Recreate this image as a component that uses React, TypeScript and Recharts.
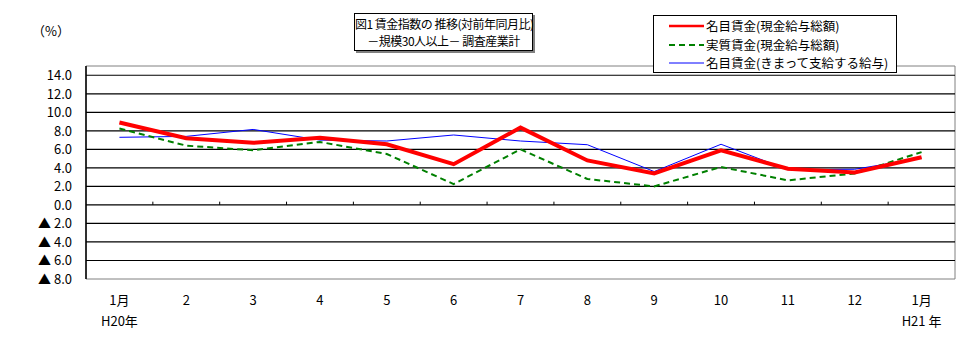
import { LineChart, Line, XAxis, YAxis, ReferenceLine, ReferenceArea } from "recharts";

const months = ["1月", "2", "3", "4", "5", "6", "7", "8", "9", "10", "11", "12", "1月"];
const years = ["H20年", "", "", "", "", "", "", "", "", "", "", "", "H21 年"];

// 名目賃金(現金給与総額)
const nominalTotal = [8.9, 7.2, 6.7, 7.25, 6.55, 4.4, 8.35, 4.8, 3.4, 5.9, 3.9, 3.5, 5.15];
// 実質賃金(現金給与総額)
const realTotal = [8.25, 6.4, 5.9, 6.8, 5.5, 2.25, 6.0, 2.8, 2.0, 4.1, 2.65, 3.4, 5.7];
// 名目賃金(きまって支給する給与)
const nominalRegular = [7.3, 7.4, 8.15, 7.0, 6.9, 7.55, 6.9, 6.5, 3.6, 6.55, 3.8, 3.85, 5.05];

const yTicks = [-8, -6, -4, -2, 0, 2, 4, 6, 8, 10, 12, 14];
const gridValues = [-6, -4, -2, 0, 2, 4, 6, 8, 10, 12, 14];
const zeroTicks = [0.5, 1.5, 2.5, 3.5, 4.5, 5.5, 6.5, 7.5, 8.5, 9.5, 10.5, 11.5];

const SERIES = [
    { key: "nominalTotal", name: "名目賃金(現金給与総額)", color: "#ff0000", width: 4, dash: undefined },
    { key: "realTotal", name: "実質賃金(現金給与総額)", color: "#008000", width: 2, dash: "6 4" },
    { key: "nominalRegular", name: "名目賃金(きまって支給する給与)", color: "#0000ff", width: 1, dash: undefined },
];

const FONT = "'Noto Sans CJK JP', sans-serif";

const data = months.map((m, i) => ({
    idx: i,
    nominalTotal: nominalTotal[i],
    realTotal: realTotal[i],
    nominalRegular: nominalRegular[i],
}));

const fmtY = (v: number) => (v < 0 ? `▲ ${Math.abs(v).toFixed(1)}` : v.toFixed(1));

function YTick({ x, y, payload }: any) {
    return (
        <text x={x} y={y} dy={5} textAnchor="end" fontSize={13} fontFamily={FONT} fill="#000">
            {fmtY(payload.value)}
        </text>
    );
}

function XTick({ x, payload }: any) {
    const i = payload.value as number;
    return (
        <g>
            <text x={x} y={305} textAnchor="middle" fontSize={13} fontFamily={FONT} fill="#000">
                {months[i]}
            </text>
            {years[i] && (
                <text x={x} y={326} textAnchor="middle" fontSize={13} fontFamily={FONT} fill="#000">
                    {years[i]}
                </text>
            )}
        </g>
    );
}

function LegendBox() {
    return (
        <div style={{ position: "absolute", left: 653, top: 15, border: "1px solid #000", background: "#fff", width: 244, height: 58, boxSizing: "border-box", paddingTop: 1 }}>
            {SERIES.map((s) => (
                <div key={s.key} style={{ display: "flex", alignItems: "center", height: 18.5 }}>
                    <svg width={52} height={10}>
                        <line x1={15} x2={50} y1={5} y2={5} stroke={s.color} strokeWidth={Math.min(s.width, 2.5)} strokeDasharray={s.dash} />
                    </svg>
                    <span style={{ fontSize: 12.5, fontFamily: FONT, color: "#000", lineHeight: "18px", whiteSpace: "nowrap" }}>{s.name}</span>
                </div>
            ))}
        </div>
    );
}

export default function App() {
    return (
        <div style={{ position: "absolute", left: 0, top: 0, width: 976, height: 360, background: "#fff" }}>
            <LineChart width={976} height={360} data={data} margin={{ top: 66, right: 21, bottom: 0, left: 0 }} style={{ position: "absolute", left: 0, top: 0 }}>
                <XAxis
                    dataKey="idx"
                    type="number"
                    domain={[-0.5, 12.5]}
                    ticks={months.map((_, i) => i)}
                    interval={0}
                    axisLine={false}
                    tickLine={false}
                    height={81}
                    tick={<XTick />}
                />
                <YAxis
                    type="number"
                    domain={[-8, 15]}
                    ticks={yTicks}
                    interval={0}
                    width={86}
                    axisLine={{ stroke: "#000" }}
                    tickLine={false}
                    tickSize={0}
                    tickMargin={14}
                    tick={<YTick />}
                />
                <ReferenceArea x1={-0.5} x2={12.5} y1={-8} y2={15} fill="none" stroke="#808080" strokeWidth={1} />
                {gridValues.map((v) => (
                    <ReferenceLine key={v} y={v} stroke="#000" strokeWidth={1.2} />
                ))}
                {zeroTicks.map((t) => (
                    <ReferenceLine key={t} segment={[{ x: t, y: 0 }, { x: t, y: 0.35 }]} stroke="#000" />
                ))}
                <ReferenceLine x={-0.5} stroke="#000" />
                {[...SERIES].reverse().map((s) => (
                    <Line
                        key={s.key}
                        dataKey={s.key}
                        name={s.name}
                        stroke={s.color}
                        strokeWidth={s.width}
                        strokeDasharray={s.dash}
                        dot={false}
                        isAnimationActive={false}
                    />
                ))}
            </LineChart>
            <div style={{ position: "absolute", left: 32, top: 21, fontSize: 13, fontFamily: FONT }}>（%）</div>
            <div
                style={{
                    position: "absolute", left: 354, top: 13, width: 179, height: 38, boxSizing: "border-box",
                    border: "1px solid #000", boxShadow: "2px 2px 0 #808080", background: "#fff",
                    fontFamily: FONT, fontSize: 12, letterSpacing: "-0.5px", lineHeight: "17px", textAlign: "center", paddingTop: 1,
                    whiteSpace: "nowrap",
                }}
            >
                <div>図1 賃金指数の 推移(対前年同月比)</div>
                <div>－規模30人以上－ 調査産業計</div>
            </div>
            <LegendBox />
        </div>
    );
}
